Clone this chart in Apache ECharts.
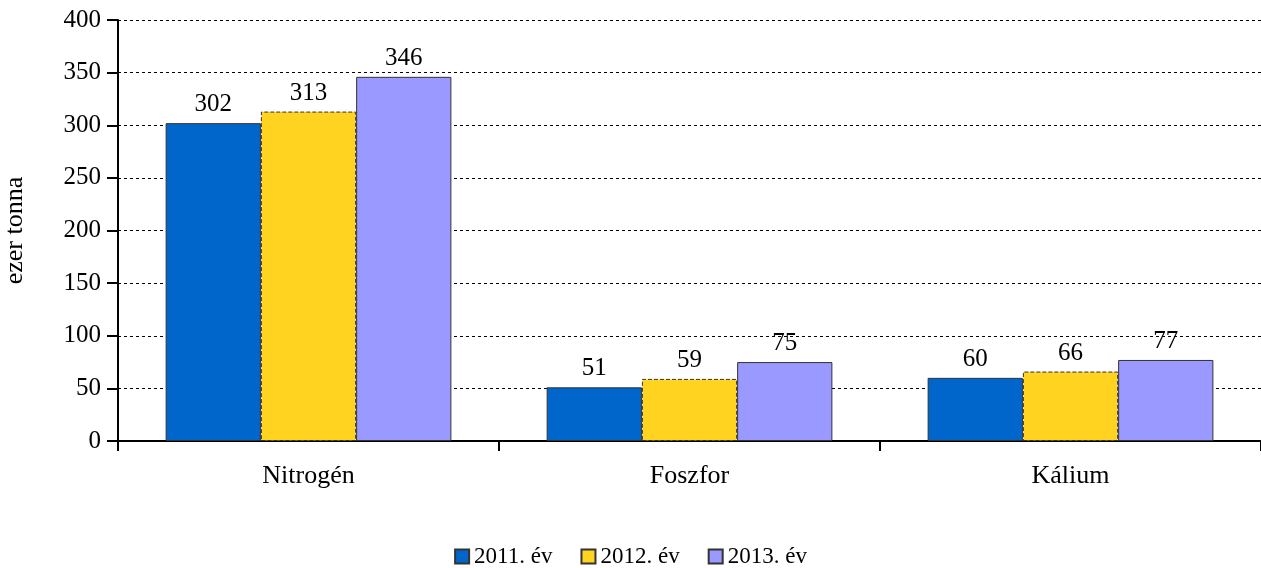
<!DOCTYPE html>
<html>
<head>
<meta charset="utf-8">
<script src="https://cdn.jsdelivr.net/npm/echarts@6/dist/echarts.min.js"></script>
<style>
  html, body { margin: 0; padding: 0; background: #fff; }
  #chart { width: 1261px; height: 568px; }
</style>
</head>
<body>
<div id="chart"></div>
<script>
var categories = ['Nitrogén', 'Foszfor', 'Kálium'];
var seriesNames = ['2011. év', '2012. év', '2013. év'];
var values2011 = [302, 51, 60];
var values2012 = [313, 59, 66];
var values2013 = [346, 75, 77];
var colors = ['#0066cc', '#ffd320', '#9999ff'];
var borderTypes = ['solid', 'dashed', 'solid'];

var font = 'Liberation Serif';
var allValues = [values2011, values2012, values2013];

var series = seriesNames.map(function(name, i) {
  return {
    name: name,
    type: 'bar',
    data: allValues[i],
    barGap: '0%',
    barCategoryGap: '25%',
    itemStyle: {
      color: colors[i],
      borderColor: '#333',
      borderWidth: 1,
      borderType: borderTypes[i]
    },
    label: {
      show: true,
      position: 'top',
      distance: 6,
      color: '#000',
      fontFamily: font,
      fontSize: 25
    }
  };
});

var chart = echarts.init(document.getElementById('chart'));
chart.setOption({
  animation: false,
  color: colors,
  textStyle: { fontFamily: font },
  grid: { left: 118, right: 0, top: 20, bottom: 127, containLabel: false, outerBoundsMode: 'none' },
  legend: {
    data: seriesNames,
    top: 540,
    left: 'center',
    icon: 'rect',
    itemWidth: 14,
    itemHeight: 14,
    itemGap: 28,
    textStyle: { fontFamily: font, fontSize: 23, color: '#000' }
  },
  xAxis: {
    type: 'category',
    data: categories,
    axisLine: { lineStyle: { color: '#000', width: 2 } },
    axisTick: { show: true, length: 10, lineStyle: { color: '#000', width: 2 } },
    axisLabel: { color: '#000', fontFamily: font, fontSize: 26, margin: 22 }
  },
  yAxis: {
    type: 'value',
    min: 0,
    max: 400,
    interval: 50,
    name: 'ezer tonna',
    nameLocation: 'middle',
    nameGap: 90,
    nameRotate: 90,
    nameTextStyle: { color: '#000', fontFamily: font, fontSize: 26 },
    axisLine: { show: true, lineStyle: { color: '#000', width: 2 } },
    axisTick: { show: true, length: 11, lineStyle: { color: '#000', width: 2 } },
    axisLabel: { color: '#000', fontFamily: font, fontSize: 25, margin: 17 },
    splitLine: { show: true, lineStyle: { color: '#000', type: [3, 3], width: 1 } }
  },
  series: series
});
</script>
</body>
</html>
